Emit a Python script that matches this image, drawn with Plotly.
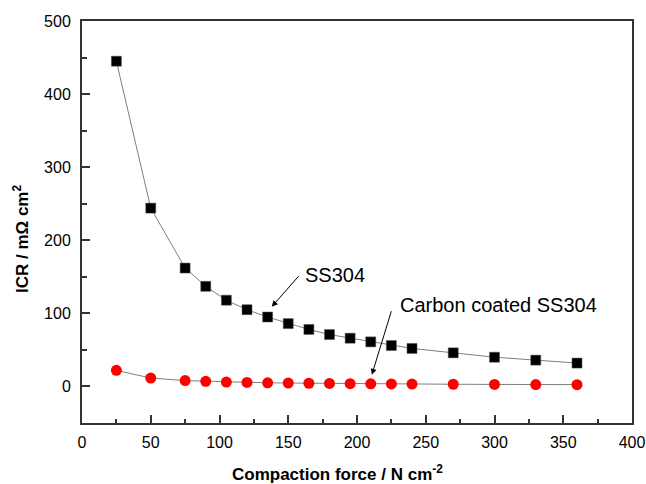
import plotly.graph_objects as go

# Compaction force (N cm^-2)
force = [25, 50, 75, 90, 105, 120, 135, 150, 165, 180, 195, 210, 225, 240, 270, 300, 330, 360]
# Interfacial contact resistance (mOhm cm^2)
icr_ss304 = [445, 244, 162, 137, 118, 105, 95, 86, 78, 71, 66, 61, 56, 52, 46, 40, 36, 32]
icr_coated = [22, 11.5, 8, 7, 6, 5.5, 5, 4.7, 4.4, 4.1, 3.8, 3.6, 3.4, 3.2, 3.0, 2.8, 2.6, 2.5]

FONT = "Arial, Liberation Sans, sans-serif"

fig = go.Figure()
fig.add_trace(go.Scatter(
    x=force, y=icr_ss304, mode="lines+markers", name="SS304",
    line=dict(color="#7f7f7f", width=1),
    marker=dict(symbol="square", size=10, color="black",
                line=dict(color="#555555", width=0.5)),
))
fig.add_trace(go.Scatter(
    x=force, y=icr_coated, mode="lines+markers", name="Carbon coated SS304",
    line=dict(color="#7f7f7f", width=1),
    marker=dict(symbol="circle", size=11, color="#ff0000",
                line=dict(width=0)),
))

axis_common = dict(
    showline=True, linecolor="#333333", linewidth=2, mirror=True,
    ticks="inside", ticklen=8, tickwidth=1.5, tickcolor="#333333",
    showgrid=False, zeroline=False, automargin=False,
    tickfont=dict(family=FONT, size=16, color="black"),
)

fig.update_xaxes(
    range=[0, 400], tick0=0, dtick=50,
    minor=dict(ticks="inside", ticklen=4, dtick=25, tickcolor="#333333", tickwidth=1.5),
    ticklabelstandoff=4,
    **axis_common,
)
fig.update_yaxes(
    range=[-50, 500], tick0=0, dtick=100,
    minor=dict(ticks="inside", ticklen=5, dtick=50, tickcolor="#333333", tickwidth=1.5),
    ticklabelstandoff=6,
    **axis_common,
)

annotations = [
    # axis titles
    dict(text="<b>Compaction force / N cm<sup>-2</sup></b>", xref="paper", yref="paper",
         x=0.465, y=-0.125, xanchor="center", yanchor="middle", showarrow=False,
         font=dict(family=FONT, size=17, color="black")),
    dict(text="<b>ICR / m\u03a9 cm<sup>2</sup></b>", xref="paper", yref="paper",
         x=-0.111, y=0.46, xanchor="center", yanchor="middle", showarrow=False,
         textangle=-90, font=dict(family=FONT, size=17, color="black")),
    # series labels
    dict(text="SS304", x=160.5, y=152, xref="x", yref="y", xanchor="left",
         yanchor="middle", showarrow=False, font=dict(family=FONT, size=20, color="black")),
    dict(text="Carbon coated SS304", x=229.5, y=112, xref="x", yref="y", xanchor="left",
         yanchor="middle", showarrow=False, font=dict(family=FONT, size=20, color="black")),
    # pointer arrows
    dict(text="", x=138, y=109, ax=158.5, ay=153, xref="x", yref="y", axref="x", ayref="y",
         showarrow=True, arrowhead=2, arrowsize=1.2, arrowwidth=1, arrowcolor="black",
         standoff=0, startstandoff=0),
    dict(text="", x=210.8, y=16, ax=225.3, ay=105, xref="x", yref="y", axref="x", ayref="y",
         showarrow=True, arrowhead=2, arrowsize=1.2, arrowwidth=1, arrowcolor="black",
         standoff=0, startstandoff=0),
]

fig.update_layout(
    width=646, height=484,
    margin=dict(l=82, r=14, t=21, b=61),
    paper_bgcolor="white", plot_bgcolor="white",
    showlegend=False,
    annotations=annotations,
)

fig.write_html("out.html")
